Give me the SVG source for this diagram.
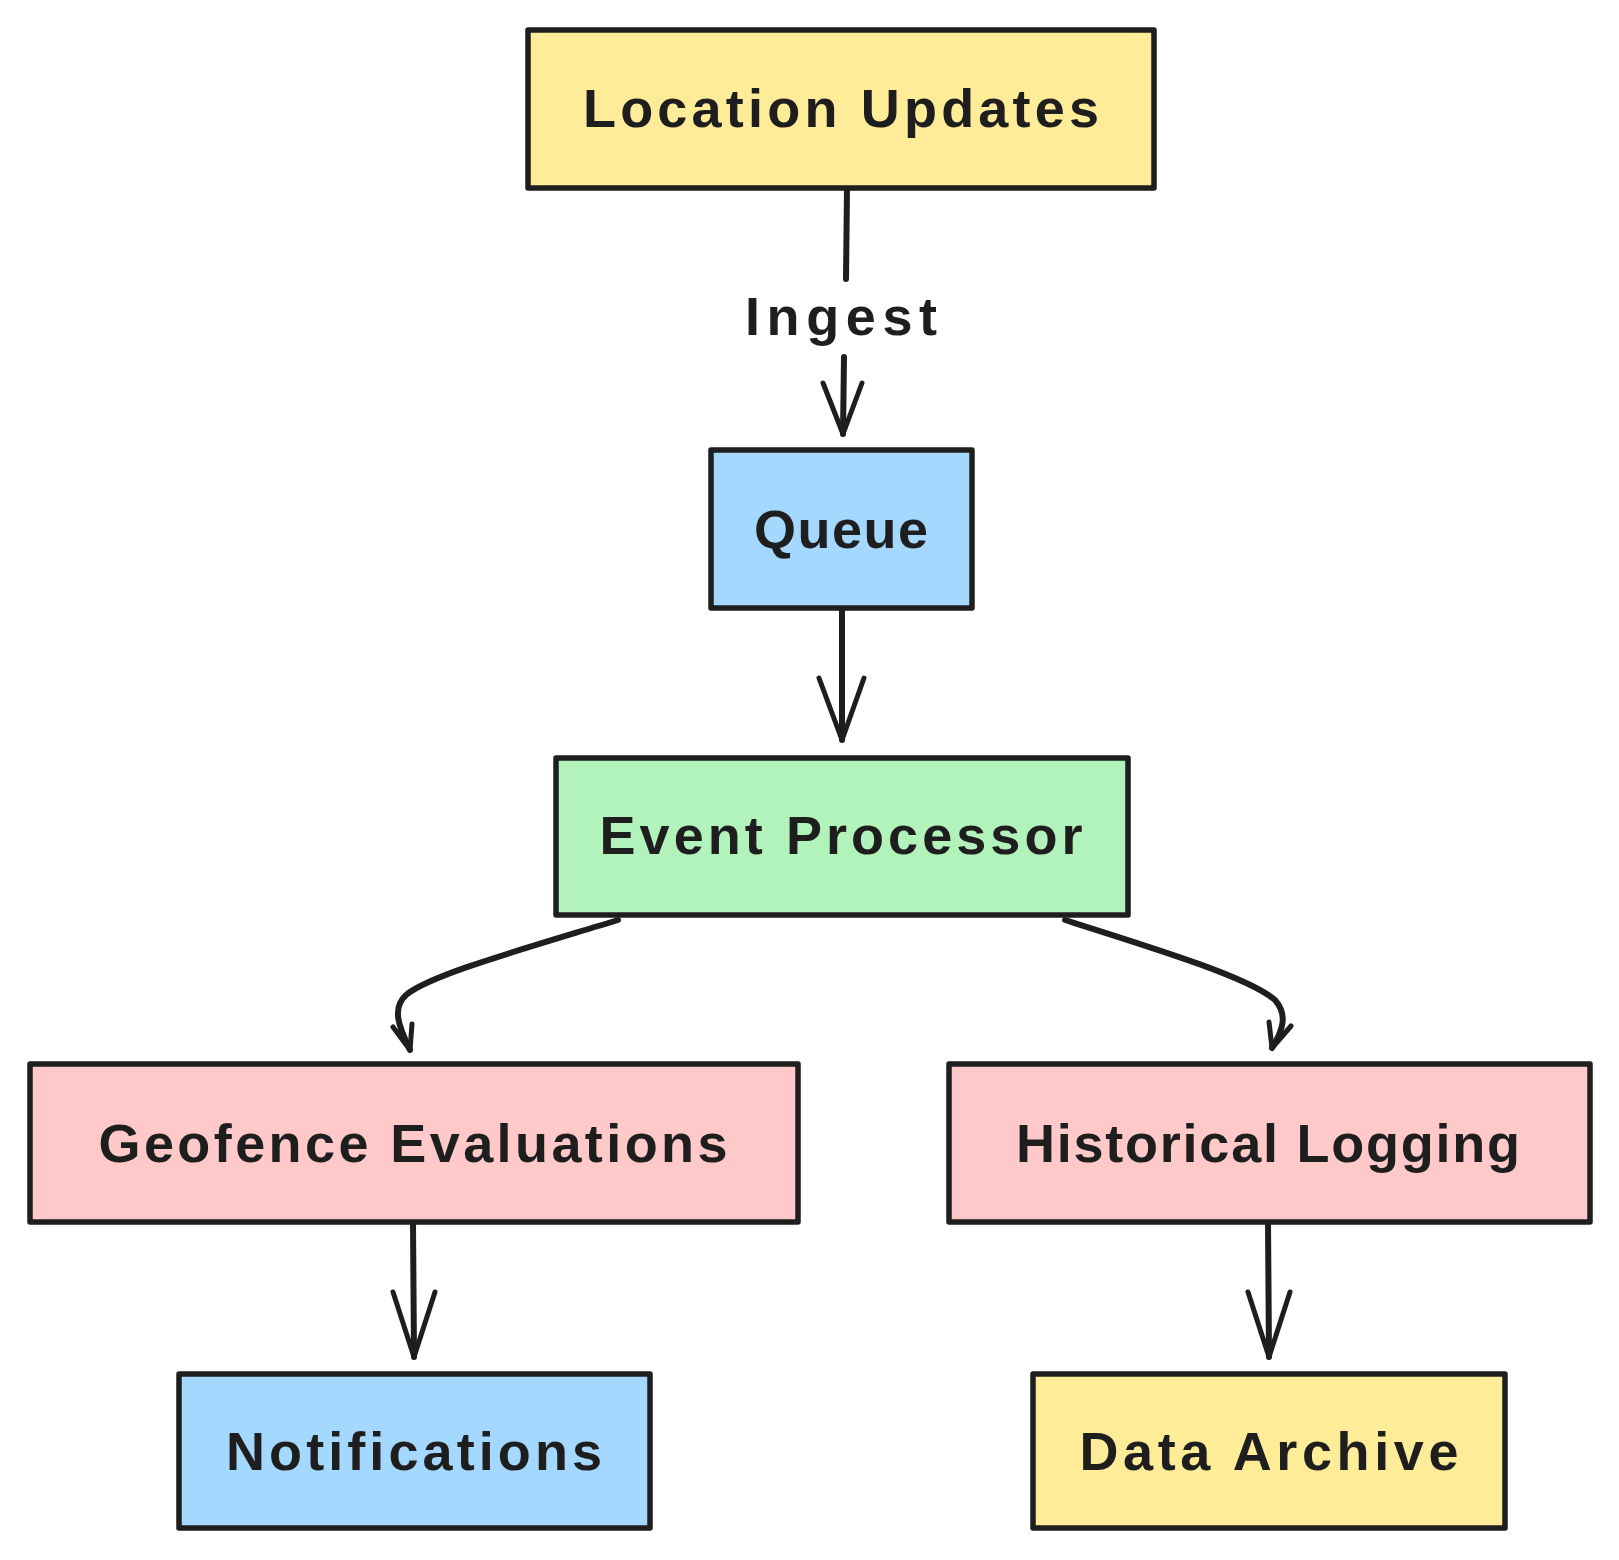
<svg xmlns="http://www.w3.org/2000/svg" width="1619" height="1560" viewBox="0 0 1619 1560">
<style>
.box{stroke:#1e1e1e;stroke-width:5.5;stroke-linejoin:round}
.lbl{font-family:"Liberation Sans",Arial,sans-serif;font-size:54px;font-weight:700;fill:#1e1e1e;text-anchor:middle;dominant-baseline:central}
.edge{fill:none;stroke:#1e1e1e;stroke-width:6;stroke-linecap:round;stroke-linejoin:round}
.head{fill:none;stroke:#1e1e1e;stroke-width:5;stroke-linecap:round;stroke-linejoin:round}
</style>
<rect width="1619" height="1560" fill="#ffffff"/>
<g id="edges">
  <g id="e1">
    <path class="edge" d="M847 188 L846 279"/>
    <path class="edge" d="M844 357 L843 434"/>
    <path class="head" d="M823 383 L843 434 L862 383"/>
    <text class="lbl" x="841" y="316" textLength="192" lengthAdjust="spacing">Ingest</text>
  </g>
  <g id="e2">
    <path class="edge" d="M842 608 L842 740"/>
    <path class="head" d="M819 678 L842 740 L864 678"/>
  </g>
  <g id="e3">
    <path class="edge" d="M618 920 C520 950 430 975 406 995 C392 1008 398 1025 410 1050"/>
    <path class="head" d="M393 1027 L410 1050 L412 1024"/>
  </g>
  <g id="e4">
    <path class="edge" d="M1065 920 C1160 950 1250 978 1275 1000 C1288 1015 1283 1030 1272 1048"/>
    <path class="head" d="M1269 1022 L1272 1048 L1291 1026"/>
  </g>
  <g id="e5">
    <path class="edge" d="M413 1222 L414 1357"/>
    <path class="head" d="M393 1292 L414 1357 L435 1292"/>
  </g>
  <g id="e6">
    <path class="edge" d="M1268 1222 L1269 1357"/>
    <path class="head" d="M1248 1292 L1269 1357 L1290 1292"/>
  </g>
</g>
<g id="location-updates">
  <rect class="box" x="528" y="30" width="626" height="158" fill="#ffec99"/>
  <text class="lbl" x="841" y="108" textLength="516" lengthAdjust="spacing">Location Updates</text>
</g>
<g id="queue">
  <rect class="box" x="711" y="450" width="261" height="158" fill="#a5d8ff"/>
  <text class="lbl" x="841" y="529" textLength="174" lengthAdjust="spacing">Queue</text>
</g>
<g id="event-processor">
  <rect class="box" x="556" y="758" width="572" height="157" fill="#b2f2bb"/>
  <text class="lbl" x="841" y="835" textLength="483" lengthAdjust="spacing">Event Processor</text>
</g>
<g id="geofence-evaluations">
  <rect class="box" x="30" y="1064" width="768" height="158" fill="#ffc9c9"/>
  <text class="lbl" x="413" y="1143" textLength="629" lengthAdjust="spacing">Geofence Evaluations</text>
</g>
<g id="historical-logging">
  <rect class="box" x="949" y="1064" width="641" height="158" fill="#ffc9c9"/>
  <text class="lbl" x="1268" y="1143" textLength="504" lengthAdjust="spacing">Historical Logging</text>
</g>
<g id="notifications">
  <rect class="box" x="179" y="1374" width="471" height="154" fill="#a5d8ff"/>
  <text class="lbl" x="414" y="1451" textLength="376" lengthAdjust="spacing">Notifications</text>
</g>
<g id="data-archive">
  <rect class="box" x="1033" y="1374" width="472" height="154" fill="#ffec99"/>
  <text class="lbl" x="1269" y="1451" textLength="379" lengthAdjust="spacing">Data Archive</text>
</g>
</svg>
